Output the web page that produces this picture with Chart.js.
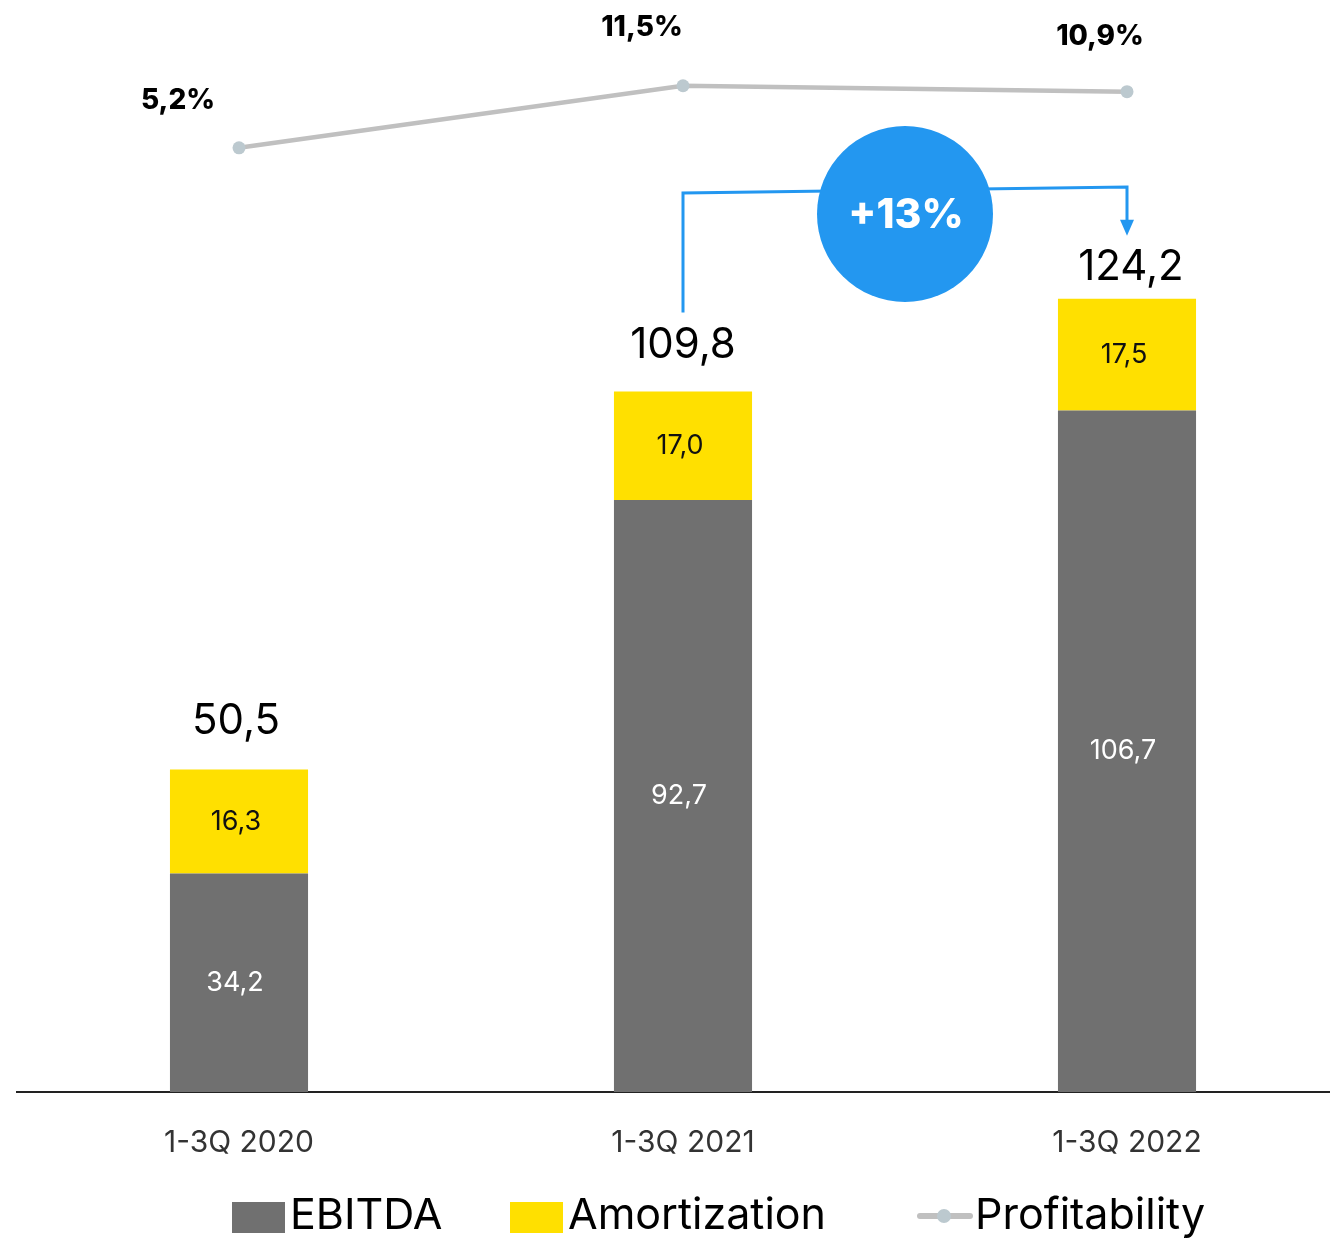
<!DOCTYPE html>
<html lang="en">
<head>
  <meta charset="UTF-8">
  <title>EBITDA 1-3Q</title>
  <script src="https://cdn.jsdelivr.net/npm/chart.js"></script>
  <style>
    html, body { margin: 0; padding: 0; background: #fff; overflow: hidden; }
    #wrap { width: 1350px; height: 1239px; }
  </style>
</head>
<body>
  <div id="wrap"><canvas id="chart" width="1350" height="1239"></canvas></div>
  <script>
    const periods = ['1-3Q 2020', '1-3Q 2021', '1-3Q 2022'];
    const ebitda = [34.2, 92.7, 106.7];
    const amortization = [16.3, 17.0, 17.5];
    const totals = [50.5, 109.8, 124.2];
    const profitability = [5.2, 11.5, 10.9];
    const growthLabel = '+13%';

    const FONT = 'Inter, "Noto Sans", sans-serif';
    const GRAY = '#707070';
    const YELLOW = '#FFE000';
    const LINE = '#C0C0C0';
    const BLUE = '#2397F0';

    // distance of the total label above each bar, and offsets of the % labels
    const totalLift = [48, 46, 31];
    const pctOffset = [[-61, -47], [-41, -58], [-27, -55]];

    const fmt = (v, d = 1) => v.toFixed(d).replace('.', ',');

    const labelPlugin = {
      id: 'labels',
      afterDatasetsDraw(chart) {
        const ctx = chart.ctx;
        const ebMeta = chart.getDatasetMeta(0);
        const amMeta = chart.getDatasetMeta(1);
        const lnMeta = chart.getDatasetMeta(2);
        ctx.save();
        ctx.textAlign = 'center';
        ctx.textBaseline = 'middle';

        // values inside the stacked segments
        ctx.font = '400 27px ' + FONT;
        ebMeta.data.forEach((bar, i) => {
          ctx.fillStyle = '#fff';
          ctx.fillText(fmt(ebitda[i]), bar.x - 4, (bar.y + bar.base) / 2);
        });
        amMeta.data.forEach((bar, i) => {
          ctx.fillStyle = '#111';
          ctx.fillText(fmt(amortization[i]), bar.x - 3, (bar.y + bar.base) / 2);
        });

        // totals above the bars
        ctx.font = '400 42px ' + FONT;
        ctx.fillStyle = '#000';
        amMeta.data.forEach((bar, i) => {
          ctx.fillText(fmt(totals[i]), bar.x + (i === 2 ? 4 : 0) - (i === 0 ? 3 : 0), bar.y - totalLift[i]);
        });

        // profitability labels
        ctx.font = '800 28px ' + FONT;
        lnMeta.data.forEach((pt, i) => {
          ctx.fillText(fmt(profitability[i]) + '%', pt.x + pctOffset[i][0], pt.y + pctOffset[i][1]);
        });

        // growth bracket between the last two bars
        const a = amMeta.data[1], b = amMeta.data[2];
        const cx = (a.x + b.x) / 2;
        const cy = 214;
        ctx.strokeStyle = BLUE;
        ctx.lineWidth = 3;
        ctx.beginPath();
        ctx.moveTo(a.x, a.y - 79);
        ctx.lineTo(a.x, 193);
        ctx.lineTo(cx, 190);
        ctx.lineTo(b.x, 187);
        ctx.lineTo(b.x, b.y - 78);
        ctx.stroke();
        ctx.fillStyle = BLUE;
        ctx.beginPath();
        ctx.moveTo(b.x - 7, b.y - 79);
        ctx.lineTo(b.x + 7, b.y - 79);
        ctx.lineTo(b.x, b.y - 63);
        ctx.closePath();
        ctx.fill();

        ctx.beginPath();
        ctx.arc(cx, cy, 88, 0, Math.PI * 2);
        ctx.fill();
        ctx.fillStyle = '#fff';
        ctx.font = '800 41px ' + FONT;
        ctx.fillText(growthLabel, cx + 1, cy + 2);
        ctx.restore();
      }
    };

    // legend drawn along the bottom of the canvas
    const legendX = [232, 510, 917];
    const legendPlugin = {
      id: 'bottomLegend',
      afterDraw(chart) {
        const ctx = chart.ctx;
        const y = 1216;
        ctx.save();
        ctx.textBaseline = 'middle';
        ctx.textAlign = 'left';
        ctx.font = '400 43px ' + FONT;
        chart.data.datasets.forEach((ds, i) => {
          const x = legendX[i];
          if (ds.type === 'line') {
            ctx.strokeStyle = ds.borderColor;
            ctx.lineWidth = 6;
            ctx.lineCap = 'round';
            ctx.beginPath();
            ctx.moveTo(x + 3, y);
            ctx.lineTo(x + 53, y);
            ctx.stroke();
            ctx.fillStyle = ds.pointBackgroundColor;
            ctx.beginPath();
            ctx.arc(x + 27, y, 7, 0, Math.PI * 2);
            ctx.fill();
          } else {
            ctx.fillStyle = ds.backgroundColor;
            ctx.fillRect(x, 1202, 53, 31);
          }
          ctx.fillStyle = '#000';
          ctx.fillText(ds.label, x + 58, y);
        });
        ctx.restore();
      }
    };

    const ctx = document.getElementById('chart').getContext('2d');
    const myChart = new Chart(ctx, {
      data: {
        labels: periods,
        datasets: [
          {
            type: 'bar',
            label: 'EBITDA',
            data: ebitda,
            backgroundColor: GRAY,
            stack: 's',
            order: 2
          },
          {
            type: 'bar',
            label: 'Amortization',
            data: amortization,
            backgroundColor: YELLOW,
            stack: 's',
            order: 2
          },
          {
            type: 'line',
            label: 'Profitability',
            data: profitability,
            yAxisID: 'y2',
            borderColor: LINE,
            borderWidth: 4.5,
            pointRadius: 6.5,
            pointBorderWidth: 0,
            pointBackgroundColor: '#BCC9CF',
            tension: 0,
            order: 1
          }
        ]
      },
      options: {
        responsive: false,
        animation: false,
        layout: { autoPadding: false, padding: { left: 17, right: 1, top: 0, bottom: 45 } },
        datasets: { bar: { barPercentage: 1, categoryPercentage: 0.311 } },
        plugins: { legend: { display: false }, tooltip: { enabled: false } },
        scales: {
          x: {
            stacked: true,
            grid: { display: false, drawTicks: false },
            border: { display: true, color: '#222', width: 2 },
            ticks: { color: '#333', font: { family: FONT, size: 30 }, padding: 33 }
          },
          y: { stacked: true, display: false, min: 0, max: 171 },
          y2: { display: false, min: -90.6, max: 20.2 }
        }
      },
      plugins: [labelPlugin, legendPlugin]
    });
  </script>
</body>
</html>
